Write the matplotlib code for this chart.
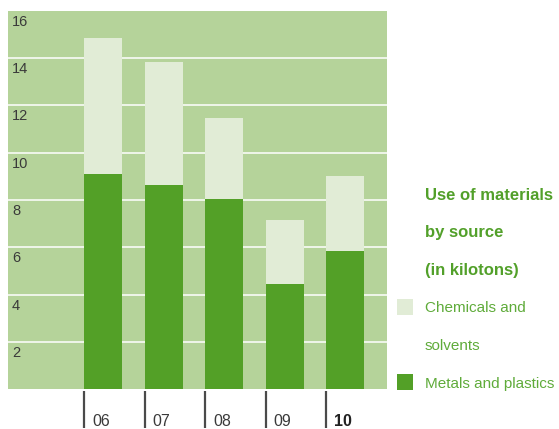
import matplotlib
matplotlib.use("Agg")
import matplotlib.pyplot as plt
from matplotlib.patches import Rectangle
from matplotlib.transforms import blended_transform_factory, offset_copy

# Use of materials by source, kilotons
years = ["06", "07", "08", "09", "10"]
metals_plastics = [9.1, 8.65, 8.05, 4.45, 5.85]
chemicals_solvents = [5.75, 5.2, 3.4, 2.7, 3.15]
y_ticks = [2, 4, 6, 8, 10, 12, 14, 16]

PANEL = "#b5d39a"
LIGHT = "#e1ecd6"
DARK = "#53a027"
TITLE_GREEN = "#52a02a"
LABEL_GREEN = "#5fab3a"

plt.rcParams["font.family"] = ["Liberation Sans", "DejaVu Sans"]

W, H = 559, 429
fig = plt.figure(figsize=(W / 100, H / 100), dpi=100)
ax = fig.add_axes([8 / W, (H - 389) / H, 379 / W, 378 / H])
ax.set_facecolor(PANEL)

x = list(range(len(years)))
bw = 0.63
ax.bar(x, metals_plastics, width=bw, color=DARK, zorder=3)
ax.bar(x, chemicals_solvents, width=bw, bottom=metals_plastics, color=LIGHT, zorder=3)

ax.set_xlim(-1.57, 4.69)
ax.set_ylim(0, 16)
for s in ax.spines.values():
    s.set_visible(False)

# white gridlines
for v in y_ticks[:-1]:
    ax.axhline(v, color="white", lw=1.3, alpha=0.85, zorder=1)

# y labels sit inside the panel, just under their gridline
ytrans = offset_copy(blended_transform_factory(ax.transAxes, ax.transData),
                     fig=fig, x=4 / 100, y=-4 / 100, units="inches")
for v in y_ticks:
    ax.text(0.0, v, str(v), transform=ytrans, ha="left", va="top",
            fontsize=10.5, color="#3a3a3a")

ax.set_xticks([])
ax.set_yticks([])

# year markers under the bars: vertical tick line at each bar's left edge
btrans = blended_transform_factory(ax.transData, fig.transFigure)
ltrans = offset_copy(btrans, fig=fig, x=8 / 100, y=0, units="inches")
for i, yr in enumerate(years):
    left = x[i] - bw / 2
    ax.plot([left, left], [(H - 391) / H, (H - 428) / H], transform=btrans,
            color="#4a4a4a", lw=1.6, clip_on=False, solid_capstyle="butt")
    ax.text(left, (H - 422) / H, yr, transform=ltrans, ha="left", va="center",
            fontsize=11.5, color="#222222" if yr == "10" else "#3a3a3a",
            fontweight="bold" if yr == "10" else "normal")

# legend block
tx = 425 / W
for text, yy in [("Use of materials", 195), ("by source", 233), ("(in kilotons)", 270)]:
    fig.text(tx, (H - yy) / H, text, ha="left", va="center", fontsize=12,
             fontweight="bold", color=TITLE_GREEN)
fig.add_artist(Rectangle((397 / W, (H - 315) / H), 16 / W, 16 / H,
                         transform=fig.transFigure, color=LIGHT, lw=0))
fig.text(tx, (H - 308) / H, "Chemicals and", ha="left", va="center",
         fontsize=11, color=LABEL_GREEN)
fig.text(tx, (H - 346) / H, "solvents", ha="left", va="center",
         fontsize=11, color=LABEL_GREEN)
fig.add_artist(Rectangle((397 / W, (H - 390) / H), 16 / W, 16 / H,
                         transform=fig.transFigure, color=DARK, lw=0))
fig.text(tx, (H - 384) / H, "Metals and plastics", ha="left", va="center",
         fontsize=11, color=LABEL_GREEN)

fig.savefig("out.png", dpi=100, facecolor="white")
